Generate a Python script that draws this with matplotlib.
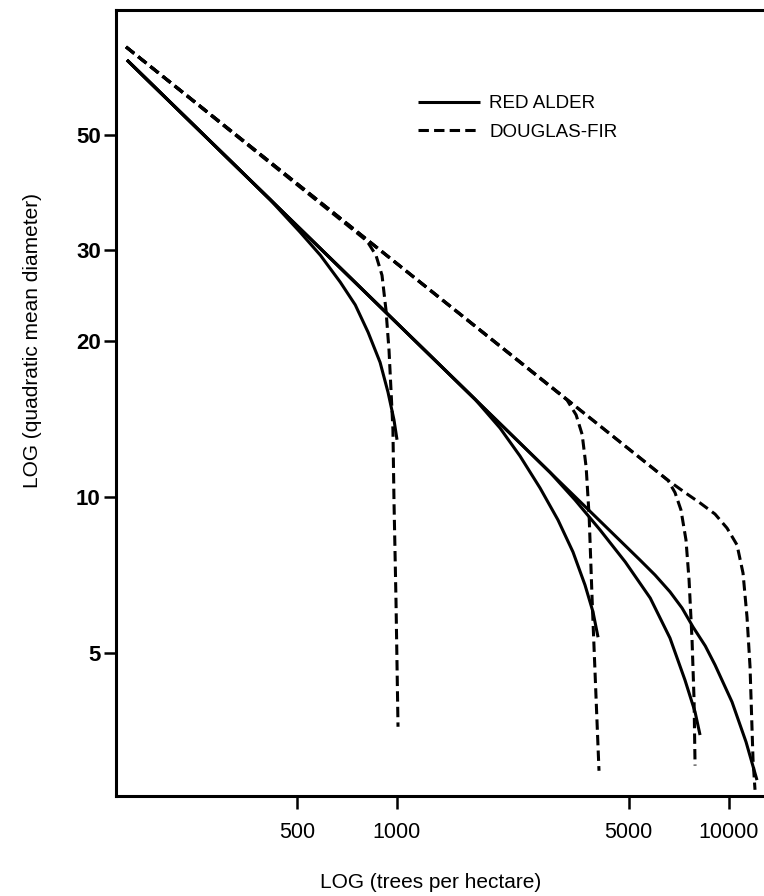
import matplotlib
matplotlib.use("Agg")
import matplotlib.pyplot as plt
from matplotlib.ticker import FixedLocator, FixedFormatter, NullLocator

plt.rcParams['font.family'] = ['Liberation Sans', 'DejaVu Sans']

# ---- data (trees per hectare, quadratic mean diameter) ----
ra_1_n = [154, 416, 461, 511, 589, 676, 750, 820, 891, 941, 981, 1002]
ra_1_d = [69.8, 37.5, 34.9, 32.5, 29.3, 26.0, 23.5, 20.8, 18.2, 15.95, 14.1, 12.9]
ra_2_n = [154, 1721, 2047, 2351, 2702, 3060, 3396, 3691, 3901, 4040]
ra_2_d = [69.8, 15.45, 13.59, 12.0, 10.41, 9.03, 7.83, 6.76, 6.00, 5.36]
ra_3_n = [154, 2895, 3444, 4096, 4881, 5803, 6655, 7384, 7918, 8197]
ra_3_d = [69.8, 11.16, 9.87, 8.64, 7.49, 6.38, 5.34, 4.43, 3.845, 3.47]
ra_4_n = [154, 5406, 5998, 6655, 7234, 7808, 8499, 9093, 10231, 11276, 12166]
ra_4_d = [69.8, 7.555, 7.07, 6.56, 6.105, 5.61, 5.157, 4.74, 4.02, 3.365, 2.84]

df_1_n = [153, 814, 866, 903, 928, 948, 961, 974, 981, 995, 1009]
df_1_d = [74.0, 31.2, 29.3, 26.8, 23.0, 19.2, 16.1, 13.5, 9.9, 6.3, 3.6]
df_2_n = [153, 3257, 3471, 3619, 3721, 3799, 3879, 3987, 4067]
df_2_d = [74.0, 15.4, 14.4, 13.2, 11.4, 9.15, 6.3, 4.06, 2.96]
df_3_n = [153, 6564, 6890, 7181, 7435, 7596, 7755, 7863, 7918]
df_3_d = [74.0, 10.77, 10.2, 9.44, 8.26, 6.91, 5.29, 4.06, 3.03]
df_4_n = [153, 6564, 7384, 8197, 9093, 9883, 10593, 11043, 11354, 11593, 11836, 12000]
df_4_d = [74.0, 10.77, 10.2, 9.74, 9.27, 8.71, 8.08, 7.13, 5.86, 4.70, 3.11, 2.72]

x_ticks = [500, 1000, 5000, 10000]
x_tick_labels = ["500", "1000", "5000", "10000"]
y_ticks = [5, 10, 20, 30, 50]
y_tick_labels = ["5", "10", "20", "30", "50"]

series_labels = ["RED ALDER", "DOUGLAS-FIR"]

# ---- figure ----
W, H = 764, 896
fig = plt.figure(figsize=(W / 100, H / 100), dpi=100)
ax = fig.add_axes([116 / W, (H - 796) / H, 684 / W, 786 / H])

lw = 2.2
dash = (0, (3.4, 1.7))

ra_sets = [(ra_1_n, ra_1_d), (ra_2_n, ra_2_d), (ra_3_n, ra_3_d), (ra_4_n, ra_4_d)]
df_sets = [(df_1_n, df_1_d), (df_2_n, df_2_d), (df_3_n, df_3_d), (df_4_n, df_4_d)]

ra_handle = None
for n, d in ra_sets:
    h, = ax.plot(n, d, color="black", lw=lw, solid_capstyle="butt",
                 solid_joinstyle="round")
    ra_handle = ra_handle or h
df_handle = None
for n, d in df_sets:
    h, = ax.plot(n, d, color="black", lw=lw, linestyle=dash, dash_capstyle="butt")
    df_handle = df_handle or h

ax.set_xscale("log")
ax.set_yscale("log")
ax.set_xlim(142.7, 16395)
ax.set_ylim(2.646, 87.2)

ax.xaxis.set_major_locator(FixedLocator(x_ticks))
ax.xaxis.set_major_formatter(FixedFormatter(x_tick_labels))
ax.xaxis.set_minor_locator(NullLocator())
ax.yaxis.set_major_locator(FixedLocator(y_ticks))
ax.yaxis.set_major_formatter(FixedFormatter(y_tick_labels))
ax.yaxis.set_minor_locator(NullLocator())

ax.tick_params(axis="x", length=9, width=1.8, direction="out", pad=10, labelsize=15.5)
ax.tick_params(axis="y", length=9, width=1.8, direction="out", pad=2, labelsize=16)
for lbl in ax.get_yticklabels():
    lbl.set_fontweight("bold")

for s in ax.spines.values():
    s.set_linewidth(2.2)

ax.set_xlabel("LOG (trees per hectare)", fontsize=15)
ax.set_ylabel("LOG (quadratic mean diameter)", fontsize=15)
ax.xaxis.set_label_coords((431 - 116) / 684, (796 - 873) / 786)
ax.yaxis.set_label_coords((42 - 116) / 684, (796 - 340) / 786)

leg = ax.legend([ra_handle, df_handle], series_labels, loc="upper left",
                bbox_to_anchor=((418 - 116) / 684, (796 - 95) / 786),
                frameon=False, fontsize=13.5, handlelength=3.3, handletextpad=0.5,
                labelspacing=0.62, borderpad=0, borderaxespad=0)

fig.savefig("out.png", dpi=100)
